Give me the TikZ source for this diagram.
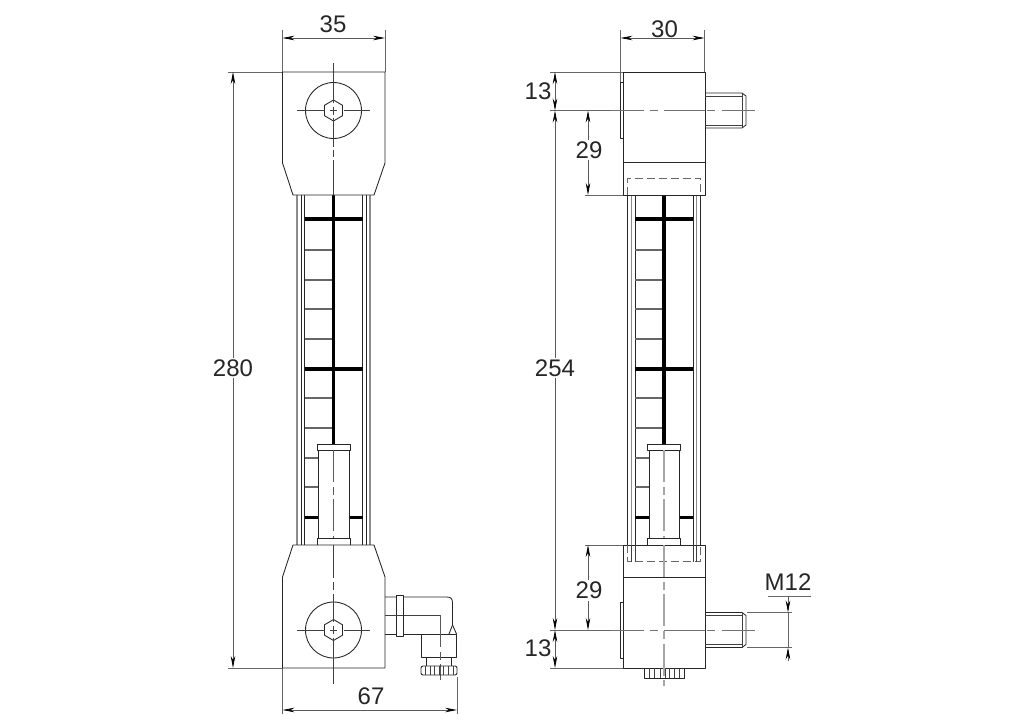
\documentclass[tikz,border=0pt]{standalone}
\usepackage{fontspec}
\setmainfont{Liberation Sans}
\usetikzlibrary{arrows.meta}
\tikzset{
  outline/.style={draw=black!85,line width=.65pt,line join=round},
  thinline/.style={draw=black!75,line width=.5pt},
  scalebar/.style={draw=black,line width=2.8pt},
  tickline/.style={draw=black!60,line width=.8pt},
  glassline/.style={draw=black!45,line width=.8pt},
  hidden/.style={draw=black!60,line width=.7pt,dash pattern=on 6pt off 3pt},
  axisline/.style={draw=black!65,line width=.55pt,dash pattern=on 24pt off 3.5pt on 6pt off 3.5pt},
  axisgrey/.style={draw=black!35,line width=1pt,dash pattern=on 24pt off 3.5pt on 6pt off 3.5pt},
  dimline/.style={draw=black!65,line width=.55pt,{Stealth[length=9pt,width=3.4pt,black]}-{Stealth[length=9pt,width=3.4pt,black]}},
  leaderline/.style={draw=black!65,line width=.55pt,-{Stealth[length=9pt,width=3.4pt,black]}},
  extline/.style={draw=black!60,line width=.55pt},
  dimtext/.style={font=\fontsize{18}{20}\selectfont,text=black!85,inner sep=1.5pt},
}
\begin{document}
\begin{tikzpicture}[x=.75pt,y=-.75pt]
\useasboundingbox (0,0) rectangle (1024,724);
% extension lines
\draw[extline] (282.5,30) -- (282.5,72) (385,30) -- (385,72);
\draw[extline] (620.5,30) -- (620.5,82) (704.5,30) -- (704.5,72);
\draw[extline] (228,72) -- (282.5,72) (228,668) -- (282.5,668);
\draw[extline] (282.5,668) -- (282.5,714) (457,677) -- (457,714);
\draw[extline] (550,72) -- (623,72) (550,110.5) -- (611,110.5);
\draw[extline] (585,195) -- (623,195) (585,545) -- (623,545);
\draw[extline] (550,630) -- (611,630) (550,668) -- (623,668);
\draw[extline] (747,612.5) -- (792,612.5) (747,647.5) -- (792,647.5);
\draw[extline] (768,596) -- (811,596);
% tube, scale and float, same in both views
\foreach \cx/\sa/\sb in {333.5/glassline/outline,664/outline/glassline} {
  \begin{scope}[shift={(\cx,0)}]
    \draw[\sa] (-36.5,195) -- (-36.5,545) (36.5,195) -- (36.5,545);
    \draw[\sb] (-32.5,195) -- (-32.5,545) (32.5,195) -- (32.5,545);
    \draw[outline] (-29,195) -- (-29,545) (29,195) -- (29,545);
    \foreach \ty in {250,280,309,339,398,428,458,487}
      \draw[tickline] (-29,\ty) -- (0,\ty);
    \draw[scalebar] (0,195) -- (0,444);
    \draw[scalebar] (-29,219) -- (29,219) (-29,369) -- (29,369);
    \draw[scalebar] (-29,517.5) -- (-15,517.5) (15,517.5) -- (29,517.5);
    \draw[outline,fill=white] (-15,450) rectangle (15.5,538);
    \draw[outline,fill=white] (-16.5,444.5) rectangle (16.5,450);
    \draw[outline,fill=white] (-16.5,538) rectangle (16.5,545);
  \end{scope}
}
% front view
\draw[outline,fill=white] (282.5,72) -- (385,72) -- (385,163) -- (374,195) -- (293,195) -- (282.5,163) -- cycle;
\draw[outline,fill=white] (293,545) -- (374,545) -- (385,577) -- (385,668) -- (282.5,668) -- (282.5,577) -- cycle;
\foreach \hy in {110.5,630} {
  \draw[outline] (333.5,\hy) circle (28);
  \draw[outline] (333.5,\hy-10.5) -- (342.5,\hy-5.2) -- (342.5,\hy+5.2) -- (333.5,\hy+10.5) -- (324.5,\hy+5.2) -- (324.5,\hy-5.2) -- cycle;
  \draw[thinline] (297,\hy) -- (325,\hy) (330,\hy) -- (337,\hy) (344,\hy) -- (370,\hy);
  \draw[thinline] (333.5,\hy-4) -- (333.5,\hy+4);
}
\draw[thinline] (333.5,63) -- (333.5,103) (333.5,118) -- (333.5,147) (333.5,150) -- (333.5,157) (333.5,160) -- (333.5,195);
\draw[axisline] (333.5,450) -- (333.5,538);
\draw[thinline] (333.5,545) -- (333.5,578) (333.5,582) -- (333.5,590) (333.5,594) -- (333.5,622);
\draw[thinline] (333.5,638) -- (333.5,684);
% connector
\draw[outline] (385,597) -- (447,597) .. controls (451,597) and (452.5,599) .. (452.5,603) -- (452.5,625) -- (456.5,634);
\draw[outline] (385,634) -- (421.5,634);
\draw[outline] (421.5,634) rectangle (456.5,657);
\draw[outline] (452.5,625) -- (449,634);
\draw[thinline] (385,615) -- (440,615);
\draw[axisline] (440,615) -- (440,680);
\draw[outline,fill=white] (396,595) rectangle (403,636);
\draw[thinline] (396,615) -- (403,615);
\draw[outline] (426.5,657) -- (426.5,666) (451,657) -- (451,666);
\draw[outline,rounded corners=1.5pt] (421,666) rectangle (457,675);
\foreach \kx in {425,430,434,439,443,448,453}
  \draw[thinline] (\kx,666) -- (\kx,675);
% side view
\draw[outline,fill=white] (623,72) rectangle (705,195);
\draw[outline,fill=white] (623,545) rectangle (705,668);
\draw[outline] (623,162.5) -- (705,162.5) (623,577) -- (705,577);
\draw[outline] (623,82) -- (620,82) -- (620,138) -- (623,138);
\draw[outline] (623,602) -- (620,602) -- (620,658) -- (623,658);
\draw[hidden] (627.5,195) -- (627.5,178) -- (700.5,178) -- (700.5,195);
\draw[hidden] (627.5,545) -- (627.5,561.5) -- (700.5,561.5) -- (700.5,545);
\draw[thinline] (631.5,545) -- (631.5,561.5) (635,545) -- (635,561.5) (693,545) -- (693,561.5) (696.5,545) -- (696.5,561.5);
\foreach \sy in {110.5,630} {
  \draw[outline] (705,\sy-17.5) -- (742,\sy-17.5) -- (746,\sy-14.5) -- (746,\sy+14.5) -- (742,\sy+17.5) -- (705,\sy+17.5);
  \draw[thinline] (705,\sy-14.5) -- (742,\sy-14.5) (705,\sy+14.5) -- (742,\sy+14.5) (742,\sy-17.5) -- (742,\sy+17.5);
  \draw[draw=black!55,line width=.7pt] (611,\sy) -- (644,\sy) (650,\sy) -- (658,\sy) (664,\sy) -- (705,\sy) (707,\sy) -- (715,\sy) (722,\sy) -- (755,\sy);
}
\draw[axisgrey] (664,450) -- (664,538);
\draw[axisgrey] (664,545) -- (664,686);
\draw[outline] (644,668) -- (644,678) -- (684,678) -- (684,668);
\foreach \kx in {649,654,660,665,669,674,679}
  \draw[thinline] (\kx,668) -- (\kx,678);
% dimensions
\draw[dimline] (282.5,38) -- (385,38);
\node[dimtext] (dimWidthA) at (333,24.5) {35};
\draw[dimline] (620.5,38) -- (704.5,38);
\node[dimtext] (dimWidthB) at (664.5,29) {30};
\draw[dimline] (233,72) -- (233,668);
\node[dimtext,fill=white] (dimHeight) at (233,368) {280};
\draw[dimline] (555,110.5) -- (555,630);
\node[dimtext,fill=white] (dimPitch) at (555,368) {254};
\draw[dimline] (555,72) -- (555,110.5);
\node[dimtext] (dimTopA) at (538,91) {13};
\draw[dimline] (555,630) -- (555,668);
\node[dimtext] (dimBotA) at (538,648) {13};
\draw[dimline] (588,110.5) -- (588,195);
\node[dimtext,fill=white] (dimTopB) at (589,150) {29};
\draw[dimline] (588,545) -- (588,630);
\node[dimtext,fill=white] (dimBotB) at (589,590) {29};
\draw[dimline] (282.5,710) -- (457,710);
\node[dimtext] (dimLength) at (371,696) {67};
\node[dimtext] (dimThread) at (788,582.5) {M12};
\draw[leaderline] (788,596) -- (788,612.5);
\draw[leaderline] (788,661) -- (788,647.5);
\draw[extline] (788,612.5) -- (788,647.5);
\end{tikzpicture}
\end{document}
